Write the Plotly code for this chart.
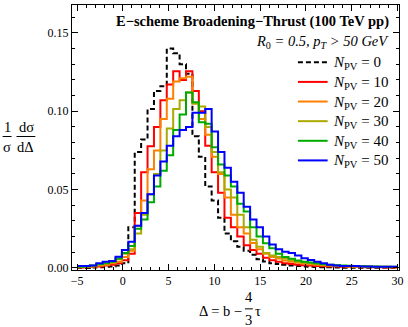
import numpy as np
import plotly.graph_objects as go

# Histogram binning: 50 bins of width 0.7 covering [-5, 30]
bin_start = -5.0
bin_width = 0.7

series_names = ["0", "10", "20", "30", "40", "50"]
series_colors = ["#000000", "#ff0000", "#ff8000", "#aaaa00", "#00aa00", "#0000ff"]

npv_0 = [0.0, 0.0, 0.0003, 0.0005, 0.0008, 0.001, 0.0015, 0.003, 0.026, 0.074,
         0.082, 0.1015, 0.113, 0.116, 0.140, 0.137, 0.130, 0.124, 0.084, 0.071,
         0.052, 0.043, 0.032, 0.022, 0.017, 0.0135, 0.011, 0.0085, 0.0055, 0.0042,
         0.003, 0.0025, 0.002, 0.0015, 0.0012, 0.001, 0.0008, 0.0006, 0.0005, 0.0004,
         0.0003, 0.0002, 0.0002, 0.0002, 0.0001, 0.0001, 0.0001, 0.0001, 0.0001, 0.0001]
npv_10 = [0.0003, 0.0005, 0.0007, 0.001, 0.0015, 0.002, 0.003, 0.005, 0.009, 0.035,
          0.061, 0.0776, 0.090, 0.107, 0.117, 0.1255, 0.120, 0.1255, 0.113, 0.100,
          0.078, 0.061, 0.048, 0.032, 0.026, 0.020, 0.0145, 0.0114, 0.009, 0.0065,
          0.005, 0.004, 0.003, 0.0025, 0.002, 0.0018, 0.0015, 0.0013, 0.0011, 0.001,
          0.0009, 0.0008, 0.0007, 0.0006, 0.0005, 0.0005, 0.0004, 0.0004, 0.0003, 0.0003]
npv_20 = [0.0005, 0.0007, 0.001, 0.0015, 0.002, 0.003, 0.004, 0.007, 0.011, 0.027,
          0.043, 0.063, 0.075, 0.095, 0.108, 0.119, 0.121, 0.122, 0.105, 0.095,
          0.085, 0.071, 0.060, 0.045, 0.034, 0.026, 0.022, 0.016, 0.012, 0.009,
          0.007, 0.006, 0.0048, 0.004, 0.0033, 0.0028, 0.0024, 0.002, 0.0017, 0.0015,
          0.0013, 0.0012, 0.001, 0.0009, 0.0008, 0.0007, 0.0006, 0.0006, 0.0005, 0.0005]
npv_30 = [0.0007, 0.001, 0.0013, 0.002, 0.003, 0.004, 0.0055, 0.009, 0.012, 0.022,
          0.034, 0.047, 0.060, 0.075, 0.089, 0.1015, 0.107, 0.112, 0.105, 0.103,
          0.090, 0.074, 0.061, 0.050, 0.045, 0.034, 0.026, 0.018, 0.0135, 0.0095,
          0.008, 0.007, 0.006, 0.005, 0.004, 0.0035, 0.003, 0.0025, 0.002, 0.0018,
          0.0015, 0.0013, 0.0012, 0.001, 0.001, 0.0009, 0.0008, 0.0007, 0.0007, 0.0006]
npv_40 = [0.0008, 0.001, 0.0015, 0.0025, 0.003, 0.004, 0.006, 0.0095, 0.014, 0.025,
          0.031, 0.042, 0.052, 0.062, 0.072, 0.088, 0.098, 0.112, 0.1057, 0.093,
          0.092, 0.077, 0.066, 0.059, 0.052, 0.041, 0.036, 0.026, 0.020, 0.0157,
          0.0125, 0.009, 0.007, 0.0058, 0.0048, 0.004, 0.0035, 0.003, 0.0025, 0.002,
          0.0018, 0.0015, 0.0014, 0.0012, 0.0011, 0.001, 0.0009, 0.0008, 0.0008, 0.0007]
npv_50 = [0.0013, 0.0013, 0.0015, 0.003, 0.004, 0.0045, 0.0072, 0.0114, 0.0167, 0.027,
          0.035, 0.047, 0.059, 0.068, 0.078, 0.084, 0.088, 0.090, 0.099, 0.099,
          0.1015, 0.087, 0.074, 0.064, 0.055, 0.048, 0.039, 0.031, 0.026, 0.020,
          0.015, 0.012, 0.0104, 0.0095, 0.008, 0.0062, 0.0051, 0.004, 0.003, 0.002,
          0.0015, 0.0013, 0.0012, 0.0012, 0.001, 0.001, 0.0008, 0.0008, 0.0008, 0.0007]

series_values = [npv_0, npv_10, npv_20, npv_30, npv_40, npv_50]

x_ticks = [-5, 0, 5, 10, 15, 20, 25, 30]
y_ticks = [0.0, 0.05, 0.10, 0.15]
y_tick_text = ["0.00", "0.05", "0.10", "0.15"]

FONT = "Liberation Serif"
W, H = 408, 327
ML, MR, MT, MB = 72, 6, 4, 57
PW, PH = W - ML - MR, H - MT - MB


def px(xp):
    return (xp - ML) / PW


def py(yp):
    return (H - MB - yp) / PH


DASH0 = "5px,3px"

fig = go.Figure()
for name, color, vals in zip(series_names, series_colors, series_values):
    n = len(vals)
    edges = bin_start + bin_width * np.arange(n + 1)
    yy = list(vals) + [vals[-1]]
    fig.add_trace(go.Scatter(
        x=edges, y=yy, mode="lines", line_shape="hv",
        line=dict(color=color, width=2, dash=DASH0 if name == "0" else "solid"),
        name="<i>N</i><sub>PV</sub> = " + name, showlegend=False,
    ))

axis_common = dict(
    showline=True, linecolor="black", linewidth=1, mirror="allticks",
    ticks="inside", ticklen=6, tickwidth=1, tickcolor="black",
    showgrid=False, zeroline=False,
    tickfont=dict(family=FONT, size=12, color="black"),
)

fig.update_xaxes(range=[-5.55, 30.16], tickvals=x_ticks,
                 minor=dict(ticks="inside", dtick=1, tick0=0, ticklen=3, tickcolor="black"),
                 **axis_common)
fig.update_yaxes(range=[-0.0013, 0.1678], tickvals=y_ticks, ticktext=y_tick_text,
                 minor=dict(ticks="inside", dtick=0.01, tick0=0, ticklen=3, tickcolor="black"),
                 **axis_common)

annotations = []
shapes = []
AFS = 14.5


def ann(text, x, y, xanchor="center", size=AFS, bold=False, italic=False):
    t = text
    if bold:
        t = "<b>" + t + "</b>"
    if italic:
        t = "<i>" + t + "</i>"
    annotations.append(dict(text=t, x=px(x), y=py(y), xref="paper", yref="paper",
                            xanchor=xanchor, yanchor="middle", showarrow=False,
                            font=dict(family=FONT, size=size, color="black")))


def hline(x0, x1, y, color="black", width=1, dash="solid"):
    shapes.append(dict(type="line", xref="paper", yref="paper",
                       x0=px(x0), x1=px(x1), y0=py(y), y1=py(y),
                       line=dict(color=color, width=width, dash=dash)))


ann("E\u2212scheme Broadening\u2212Thrust (100 TeV pp)", 394, 21, xanchor="right", bold=True)
ann("<i>R</i><sub>0</sub><i> = 0.5, p</i><sub><i>T</i></sub><i> &gt; 50 GeV</i>", 394, 41, xanchor="right")

# legend (drawn manually for exact spacing)
for i, (name, color) in enumerate(zip(series_names, series_colors)):
    yl = 61.5 + 19.7 * i
    hline(300, 330, yl, color=color, width=2, dash=DASH0 if name == "0" else "solid")
    ann("<i>N</i><sub>PV</sub> = " + name, 333, yl + 1, xanchor="left", size=15)

# y-axis label: (1/sigma) d sigma / d Delta
ann("1", 6.5, 126)
ann("\u03c3", 6.5, 147)
ann("d\u03c3", 26, 126)
ann("d\u0394", 25, 147)
hline(2, 11, 136)
hline(16, 35, 136)
# x-axis label: Delta = b - (4/3) tau
ann("\u0394 = b \u2212", 246, 311, xanchor="right")
ann("4", 250.5, 297)
ann("3", 250.5, 320)
ann("\u03c4", 254.5, 311, xanchor="left")
hline(246.5, 254.5, 309)

fig.update_layout(
    width=W, height=H,
    margin=dict(l=ML, r=MR, t=MT, b=MB),
    paper_bgcolor="white", plot_bgcolor="white",
    font=dict(family=FONT, size=12, color="black"),
    showlegend=False,
    annotations=annotations,
    shapes=shapes,
)

fig.write_html("out.html", config={"displayModeBar": False},
               post_script="document.body.style.margin='0px';document.body.style.padding='0px';")
